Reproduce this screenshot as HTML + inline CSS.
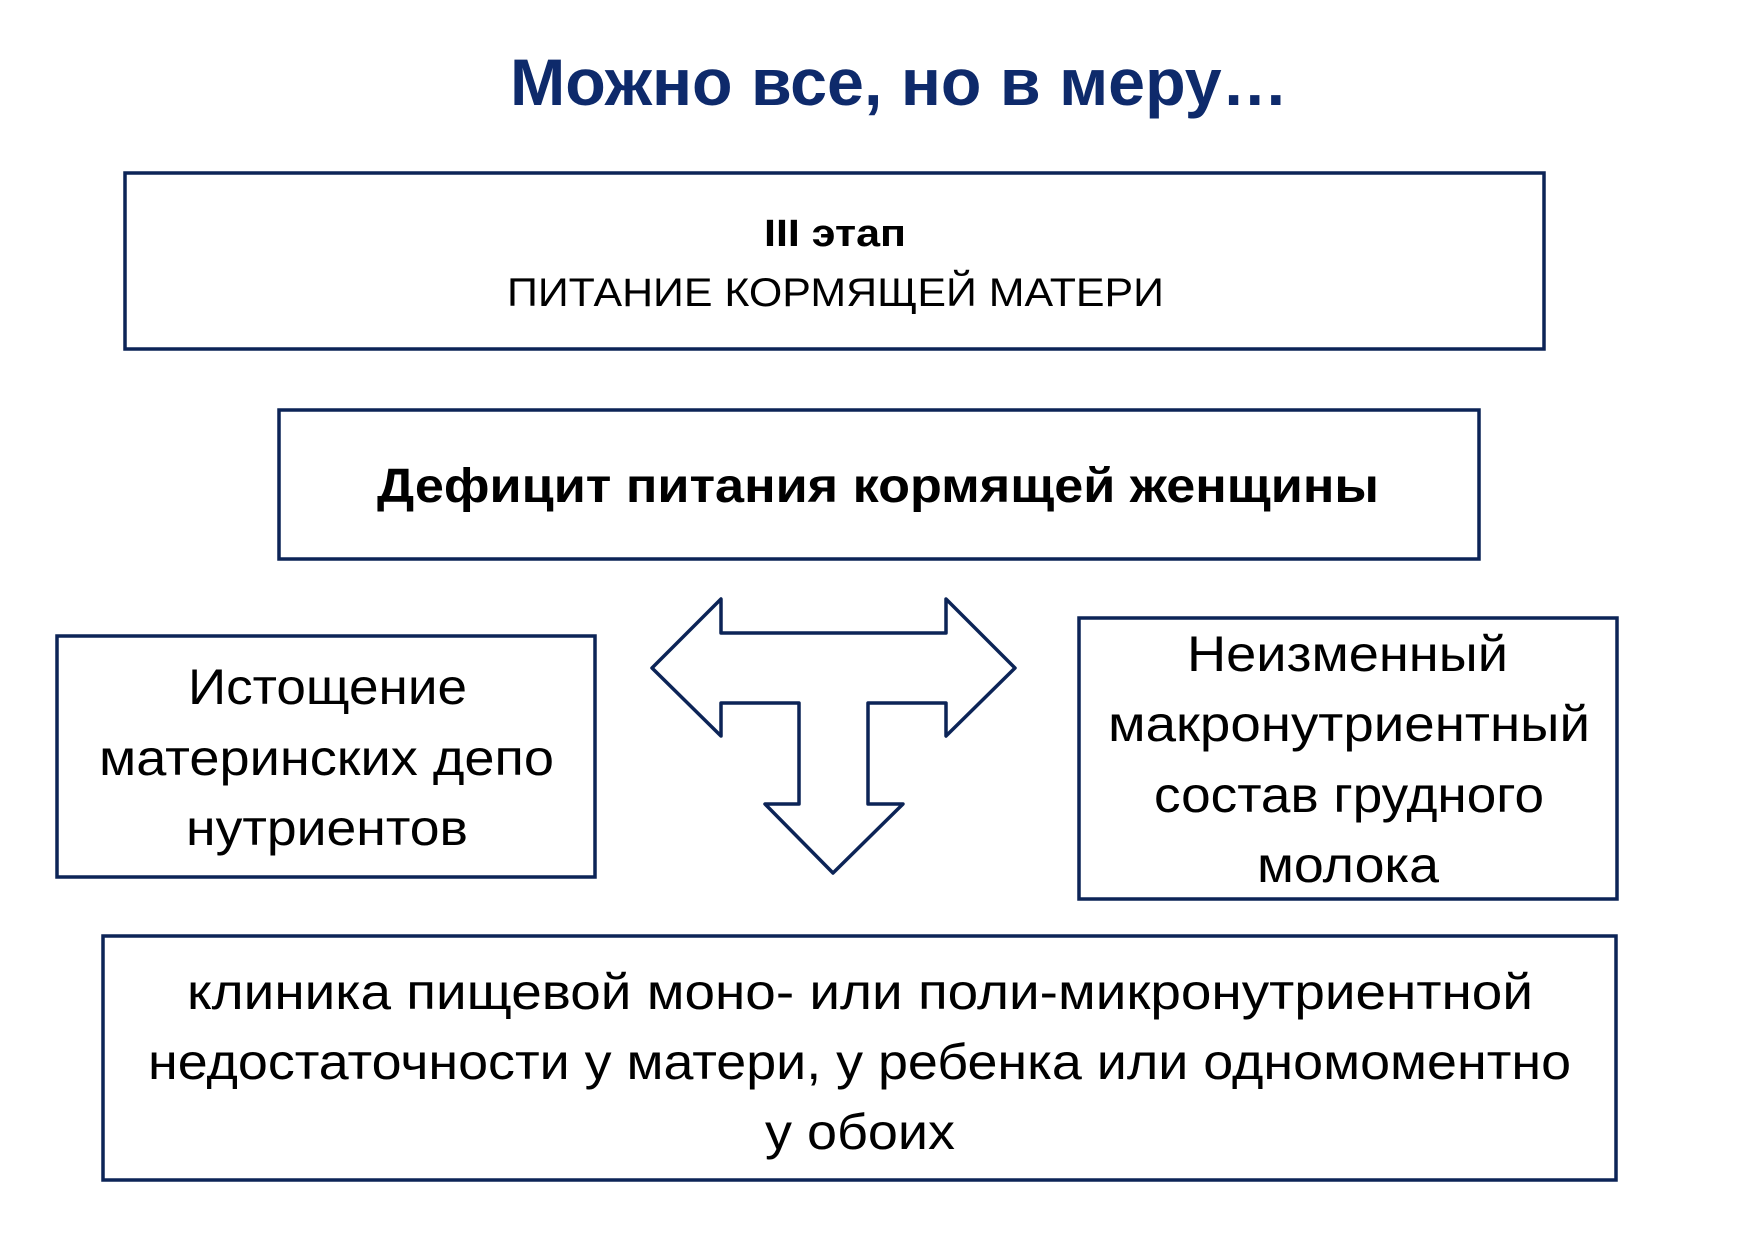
<!DOCTYPE html>
<html><head><meta charset="utf-8"><style>
html,body{margin:0;padding:0;background:#fff;}
svg{display:block}
</style></head><body>
<svg width="1755" height="1241" viewBox="0 0 1755 1241" xmlns="http://www.w3.org/2000/svg">
<rect width="1755" height="1241" fill="#fff"/>
<g font-family="Liberation Sans, DejaVu Sans, sans-serif" text-anchor="start">
<text x="510" y="105" font-size="66" font-weight="bold" fill="#0e2a6b" textLength="778" lengthAdjust="spacingAndGlyphs">Можно все, но в меру…</text>
</g>
<g fill="none" stroke="#0c2457" stroke-width="3.5">
<rect x="125" y="173" width="1419" height="176"/>
<rect x="279" y="410" width="1200" height="149"/>
<rect x="57" y="636" width="538" height="241"/>
<rect x="1079" y="618" width="538" height="281"/>
<rect x="103" y="936" width="1513" height="244"/>
<polygon stroke-linejoin="round" points="652,668 721,599 721,633 946,633 946,599 1015,668 946,736 946,703 868,703 868,804 903,804 833,873 765,804 799,804 799,703 721,703 721,736"/>
</g>
<g font-family="Liberation Sans, DejaVu Sans, sans-serif" fill="#000">
<text x="764" y="246" font-size="38" font-weight="bold" textLength="142" lengthAdjust="spacingAndGlyphs">III этап</text>
<text x="507" y="306" font-size="40" textLength="657" lengthAdjust="spacingAndGlyphs">ПИТАНИЕ КОРМЯЩЕЙ МАТЕРИ</text>
<text x="377" y="502" font-size="48" font-weight="bold" textLength="1002" lengthAdjust="spacingAndGlyphs">Дефицит питания кормящей женщины</text>
<text x="188" y="704" font-size="50" textLength="279" lengthAdjust="spacingAndGlyphs">Истощение</text>
<text x="99" y="775" font-size="50" textLength="455" lengthAdjust="spacingAndGlyphs">материнских депо</text>
<text x="186" y="845" font-size="50" textLength="282" lengthAdjust="spacingAndGlyphs">нутриентов</text>
<text x="1187" y="671" font-size="50" textLength="321" lengthAdjust="spacingAndGlyphs">Неизменный</text>
<text x="1108" y="741" font-size="50" textLength="482" lengthAdjust="spacingAndGlyphs">макронутриентный</text>
<text x="1154" y="812" font-size="50" textLength="390" lengthAdjust="spacingAndGlyphs">состав грудного</text>
<text x="1257" y="882" font-size="50" textLength="182" lengthAdjust="spacingAndGlyphs">молока</text>
<text x="187" y="1009" font-size="50" textLength="1346" lengthAdjust="spacingAndGlyphs">клиника пищевой моно- или поли-микронутриентной</text>
<text x="148" y="1079" font-size="50" textLength="1423" lengthAdjust="spacingAndGlyphs">недостаточности у матери, у ребенка или одномоментно</text>
<text x="765" y="1149" font-size="50" textLength="190" lengthAdjust="spacingAndGlyphs">у обоих</text>
</g>
</svg>
</body></html>
